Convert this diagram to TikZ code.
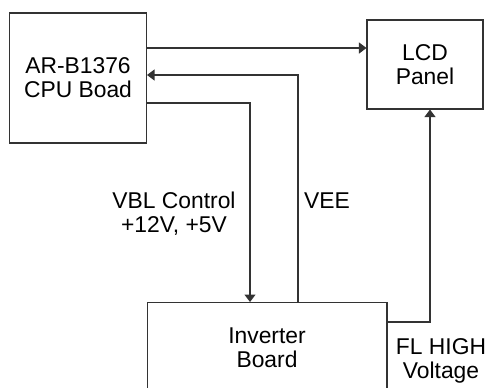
\documentclass[tikz,border=0pt]{standalone}
\usepackage{fontspec}
\setmainfont{Liberation Sans}
\usetikzlibrary{arrows.meta, positioning}

\begin{document}
\begin{tikzpicture}[
  x=0.02cm, y=-0.02cm,
  >={Triangle[length=0.15cm, width=0.22cm]},
  box/.style={
    rectangle, draw=black!80, align=center,
    inner sep=0pt,
    line width=0.6pt,
    font=\fontsize{13}{13.6}\selectfont
  },
  lbl/.style={
    align=center, inner sep=0pt,
    font=\fontsize{13}{13.6}\selectfont
  },
  wire/.style={->, line width=0.6pt, black!80}
]
\useasboundingbox (0,0) rectangle (489,387);

%% Boards
\node[box, minimum width=2.74cm, minimum height=2.6cm] (cpu) at (78,78)
  {AR-B1376\\CPU Boad};
\node[box, minimum width=2.32cm, minimum height=1.78cm] (lcd) at (425,64.5)
  {LCD\\Panel};
\node[box, minimum width=4.8cm, minimum height=1.8cm, anchor=north] (inv) at (267,302)
  {Inverter\\Board};

%% Labels
\node[lbl] (vbl) at (174,214) {VBL Control\\+12V, +5V};
\node[lbl] (vee) at (327,201) {VEE};
\node[lbl] (fl)  at (441,361) {FL HIGH\\Voltage};

%% --- Arrows ---
\draw[wire] (cpu.east |- 0,48) -- (lcd.west |- 0,48);
\draw[wire] (inv.north -| 298,0) |- (cpu.east |- 0,75);
\draw[wire] (cpu.east |- 0,103) -| (inv.north -| 250,0);
\draw[wire] (inv.east |- 0,322) -| (lcd.south -| 430,0);

\end{tikzpicture}
\end{document}
